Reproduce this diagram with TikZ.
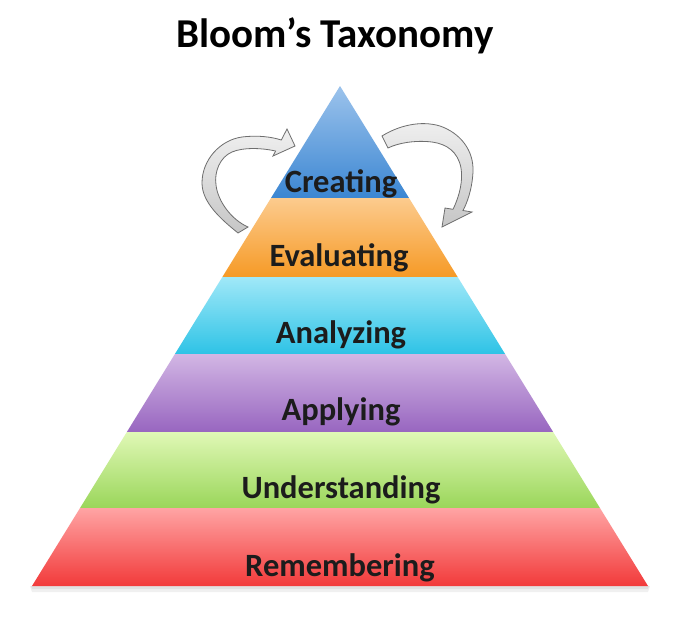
\documentclass[tikz,border=0pt]{standalone}
\usepackage{fontspec}
\setmainfont{Carlito}
\usetikzlibrary{calc}
\definecolor{cTop}{HTML}{9CC3EC}\definecolor{cBot}{HTML}{3B86D2}
\definecolor{eTop}{HTML}{FCCB8E}\definecolor{eBot}{HTML}{F69A26}
\definecolor{aTop}{HTML}{A0E8F8}\definecolor{aBot}{HTML}{2EC3E6}
\definecolor{pTop}{HTML}{D2B6E4}\definecolor{pBot}{HTML}{9866C0}
\definecolor{uTop}{HTML}{E0F8B6}\definecolor{uBot}{HTML}{9AD65A}
\definecolor{rTop}{HTML}{FFA4A4}\definecolor{rBot}{HTML}{F23A3A}
\definecolor{lblText}{HTML}{1C1C1C}
\definecolor{arrEdge}{HTML}{6E6E6E}
\begin{document}
\begin{tikzpicture}[x=1pt,y=-1pt,
  lbl/.style={anchor=base,inner sep=0pt,text=lblText,font=\fontsize{32.5}{33}\selectfont\bfseries},
  band/.style={draw=none},
  curvedarrow/.style={draw=arrEdge,line width=0.8pt,line join=miter,top color=gray!12,bottom color=gray!45}]
\useasboundingbox[fill=white] (0,0) rectangle (685,616);
% title
\node[anchor=base,inner sep=0pt,font=\fontsize{41}{41}\selectfont\bfseries] (title) at (335,47) {Bloom’s Taxonomy};
% pyramid geometry
\coordinate (A) at (340,86);
\coordinate (BL) at (32,586);
\coordinate (BR) at (648,586);
\foreach \n/\t in {1/0.224,2/0.382,3/0.536,4/0.692,5/0.844}{
  \coordinate (L\n) at ($(A)!\t!(BL)$);
  \coordinate (R\n) at ($(A)!\t!(BR)$);
}
% soft shadow under base
\fill[black,opacity=0.06] (30,586) -- (650,586) -- (648,592) -- (32,592) -- cycle;
\fill[black,opacity=0.06] (31,586) -- (649,586) -- (648,589) -- (32,589) -- cycle;
% bands
\path[band,top color=cTop,bottom color=cBot] (A) -- (R1) -- (L1) -- cycle;
\path[band,top color=eTop,bottom color=eBot] (L1) -- (R1) -- (R2) -- (L2) -- cycle;
\path[band,top color=aTop,bottom color=aBot] (L2) -- (R2) -- (R3) -- (L3) -- cycle;
\path[band,top color=pTop,bottom color=pBot] (L3) -- (R3) -- (R4) -- (L4) -- cycle;
\path[band,top color=uTop,bottom color=uBot] (L4) -- (R4) -- (R5) -- (L5) -- cycle;
\path[band,top color=rTop,bottom color=rBot] (L5) -- (R5) -- (BR) -- (BL) -- cycle;
% labels
\node[lbl] (creating) at (341,192) {Creating};
\node[lbl] (evaluating) at (339,266) {Evaluating};
\node[lbl] (analyzing) at (341,343) {Analyzing};
\node[lbl] (applying) at (341,420) {Applying};
\node[lbl] (understanding) at (341,498) {Understanding};
\node[lbl] (remembering) at (340,576) {Remembering};
% left curved arrow
\path[curvedarrow] (238,233)
  .. controls (222,220) and (202,203) .. (202,183)
  .. controls (202,160) and (220,140) .. (242,137)
  .. controls (258,135) and (272,137) .. (281.3,140)
  -- (287,129) -- (295,146) -- (273,156) -- (275.6,151)
  .. controls (262,148) and (244,147) .. (232,152)
  .. controls (220,157) and (214,172) .. (216,185)
  .. controls (218,202) and (232,220) .. (248,227)
  -- cycle;
% right curved arrow
\path[curvedarrow] (382,136)
  .. controls (398,126) and (420,120) .. (440,126)
  .. controls (460,133) and (474,150) .. (473,172)
  .. controls (472,190) and (467,203) .. (463,210.5)
  -- (472,212) -- (442,227) -- (445,208) -- (453,209.3)
  .. controls (460,195) and (463,180) .. (461,168)
  .. controls (458,152) and (447,144) .. (432,142)
  .. controls (415,140) and (398,143) .. (388,148)
  -- cycle;
\end{tikzpicture}
\end{document}
